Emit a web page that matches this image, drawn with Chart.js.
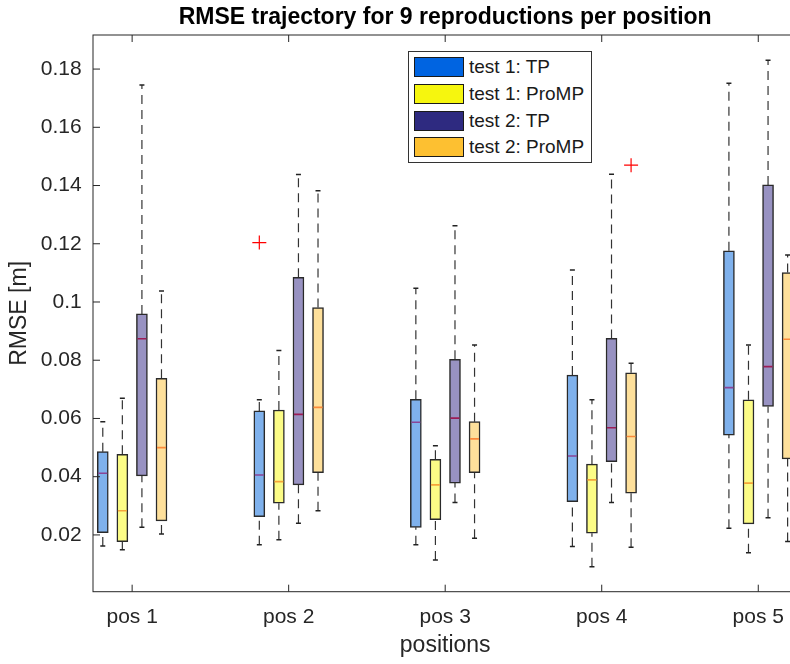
<!DOCTYPE html>
<html>
<head>
<meta charset="utf-8">
<script src="https://cdn.jsdelivr.net/npm/chart.js@4.4.0/dist/chart.umd.min.js"></script>
<style>
  html, body { margin: 0; padding: 0; background: #fff; overflow: hidden; }
  #wrap { position: relative; width: 810px; height: 664px; }
  #legend {
    position: absolute; left: 408px; top: 51px; width: 182px; height: 110px;
    border: 1px solid #333; background: #fff;
    font-family: 'Liberation Sans', Arial, sans-serif; font-size: 19px; color: #1a1a1a;
  }
  .item { position: absolute; left: 5px; height: 20px; display: flex; align-items: center; white-space: nowrap; }
  .swatch { width: 48px; height: 18px; border: 1px solid #1a1a1a; margin-right: 5px; }
</style>
</head>
<body>
<div id="wrap">
  <canvas id="boxChart" width="810" height="664"></canvas>
  <div id="legend"></div>
</div>
<script>
// categories and tick labels
const positions = ['pos 1', 'pos 2', 'pos 3', 'pos 4', 'pos 5'];
const seriesNames = ['test 1: TP', 'test 1: ProMP', 'test 2: TP', 'test 2: ProMP'];
const yTicks = [0.02, 0.04, 0.06, 0.08, 0.1, 0.12, 0.14, 0.16, 0.18];
const yTickLabels = ['0.02', '0.04', '0.06', '0.08', '0.1', '0.12', '0.14', '0.16', '0.18'];

// one row per position: [lower whisker, q1, median, q3, upper whisker]
const test1TP = [
    [0.0162, 0.0208, 0.0412, 0.0486, 0.0589],
    [0.0166, 0.0263, 0.0406, 0.0626, 0.0664],
    [0.0166, 0.0226, 0.0587, 0.0666, 0.1047],
    [0.0160, 0.0314, 0.0471, 0.0749, 0.1110],
    [0.0223, 0.0543, 0.0706, 0.1176, 0.1751]
];
const test1ProMP = [
    [0.0149, 0.0177, 0.0283, 0.0477, 0.0669],
    [0.0183, 0.0309, 0.0383, 0.0629, 0.0833],
    [0.0114, 0.0252, 0.0372, 0.0460, 0.0506],
    [0.0091, 0.0206, 0.0389, 0.0443, 0.0664],
    [0.0139, 0.0238, 0.0378, 0.0664, 0.0852]
];
const test2TP = [
    [0.0226, 0.0403, 0.0874, 0.0959, 0.1745],
    [0.0240, 0.0372, 0.0614, 0.1085, 0.1438],
    [0.0311, 0.0378, 0.0601, 0.0803, 0.1262],
    [0.0311, 0.0452, 0.0568, 0.0875, 0.1439],
    [0.0259, 0.0641, 0.0778, 0.1402, 0.1830]
];
const test2ProMP = [
    [0.0203, 0.0248, 0.0500, 0.0738, 0.1038],
    [0.0283, 0.0414, 0.0638, 0.0981, 0.1382],
    [0.0189, 0.0414, 0.0530, 0.0589, 0.0852],
    [0.0158, 0.0343, 0.0538, 0.0757, 0.0790],
    [0.0177, 0.0461, 0.0872, 0.1101, 0.1161]
];
// outliers: series index, position number, value
const outliers = [
    { series: 0, pos: 2, value: 0.1204 },
    { series: 3, pos: 4, value: 0.1470 }
];

// styles
const legendColors = ['#0064e1', '#f6f60e', '#2e2a80', '#fdc031'];
const boxFills = ['#7fb1ec', '#fcfc86', '#9892c2', '#fee09b'];
const medianColors = ['#8a4596', '#f5a43a', '#9c1c55', '#fb8a3c'];
const groupOffsets = [-0.1875, -0.0625, 0.0625, 0.1875];
const FONT = "'Liberation Sans', Arial, Helvetica, sans-serif";

const allSeries = [test1TP, test1ProMP, test2TP, test2ProMP];
const xOf = (s, j) => j + 1 + groupOffsets[s];

// Build datasets (first one is drawn on top)
const datasets = [];

datasets.push({
    type: 'scatter',
    data: outliers.map(o => ({ x: o.pos + groupOffsets[o.series], y: o.value })),
    pointStyle: 'cross', pointRadius: 7, borderColor: '#ff0000', borderWidth: 1.2
});

allSeries.forEach((s, i) => {
    datasets.push({
        type: 'scatter',
        data: s.map((r, j) => ({ x: xOf(i, j), y: r[2] })),
        pointStyle: 'line', pointRadius: 4.5, borderColor: medianColors[i], borderWidth: 1.6
    });
});

const caps = [];
allSeries.forEach((s, i) => s.forEach((r, j) => {
    caps.push({ x: xOf(i, j), y: r[0] });
    caps.push({ x: xOf(i, j), y: r[4] });
}));
datasets.push({
    type: 'scatter', data: caps,
    pointStyle: 'line', pointRadius: 2.5, borderColor: '#222', borderWidth: 1.5
});

allSeries.forEach((s, i) => {
    datasets.push({
        type: 'bar',
        data: s.map((r, j) => ({ x: xOf(i, j), y: [r[1], r[3]] })),
        backgroundColor: boxFills[i], borderColor: '#2a2a2a', borderWidth: 1.5,
        borderSkipped: false, barThickness: 11, grouped: false
    });
});

const whiskers = [];
allSeries.forEach((s, i) => s.forEach((r, j) => {
    const x = xOf(i, j);
    whiskers.push({ x, y: r[3] }, { x, y: r[4] }, { x, y: null });
    whiskers.push({ x, y: r[0] }, { x, y: r[1] }, { x, y: null });
}));
datasets.push({
    type: 'scatter', showLine: true, data: whiskers, spanGaps: false,
    borderColor: '#333', borderWidth: 1.2, borderDash: [9, 6], pointRadius: 0
});

// MATLAB-like box frame with inward ticks
const matlabAxes = {
    id: 'matlabAxes',
    afterDraw(chart) {
        const { ctx, chartArea: a, scales: { x, y } } = chart;
        ctx.save();
        ctx.strokeStyle = '#262626';
        ctx.lineWidth = 1;
        ctx.strokeRect(a.left, a.top, a.right - a.left, a.bottom - a.top);
        ctx.beginPath();
        x.ticks.forEach(t => {
            const px = x.getPixelForValue(t.value);
            ctx.moveTo(px, a.bottom); ctx.lineTo(px, a.bottom - 7);
            ctx.moveTo(px, a.top); ctx.lineTo(px, a.top + 7);
        });
        y.ticks.forEach(t => {
            const py = y.getPixelForValue(t.value);
            ctx.moveTo(a.left, py); ctx.lineTo(a.left + 7, py);
            ctx.moveTo(a.right, py); ctx.lineTo(a.right - 7, py);
        });
        ctx.stroke();
        ctx.restore();
    }
};

new Chart(document.getElementById('boxChart'), {
    type: 'bar',
    data: { datasets },
    plugins: [matlabAxes],
    options: {
        responsive: false,
        animation: false,
        layout: { padding: { left: 0, right: 12.6, top: 0, bottom: 0 } },
        plugins: {
            legend: { display: false },
            tooltip: { enabled: false },
            title: {
                display: true, fullSize: false,
                text: 'RMSE trajectory for 9 reproductions per position',
                color: '#000', font: { family: FONT, size: 23, weight: 'bold' },
                padding: { top: 4, bottom: 3.4 }
            }
        },
        scales: {
            x: {
                type: 'linear', min: 0.75, max: 5.25, offset: false,
                afterBuildTicks: s => { s.ticks = positions.map((p, i) => ({ value: i + 1 })); },
                afterFit: s => { s.height = 72.3; },
                grid: { display: false, drawTicks: false },
                border: { display: false },
                ticks: {
                    padding: 13.4, color: '#262626', font: { family: FONT, size: 21 },
                    callback: (v, i) => positions[i]
                },
                title: {
                    display: true, text: 'positions', color: '#262626',
                    font: { family: FONT, size: 23 }, padding: { top: 0, bottom: 5 }
                }
            },
            y: {
                type: 'linear', min: 0.0005, max: 0.1917,
                afterBuildTicks: s => { s.ticks = yTicks.map(v => ({ value: v })); },
                afterFit: s => { s.width = 93; },
                grid: { display: false, drawTicks: false },
                border: { display: false },
                ticks: {
                    padding: 11.3, color: '#262626', font: { family: FONT, size: 21 },
                    callback: (v, i) => yTickLabels[i]
                },
                title: {
                    display: true, text: 'RMSE [m]', color: '#262626',
                    font: { family: FONT, size: 23 }, padding: { top: 5.7, bottom: 0 }
                }
            }
        }
    }
});

// HTML legend
const legendEl = document.getElementById('legend');
seriesNames.forEach((name, i) => {
    const item = document.createElement('div');
    item.className = 'item';
    item.style.top = (5 + i * 26.8) + 'px';
    item.innerHTML = '<span class="swatch" style="background:' + legendColors[i] + '"></span>' + name;
    legendEl.appendChild(item);
});
</script>
</body>
</html>
